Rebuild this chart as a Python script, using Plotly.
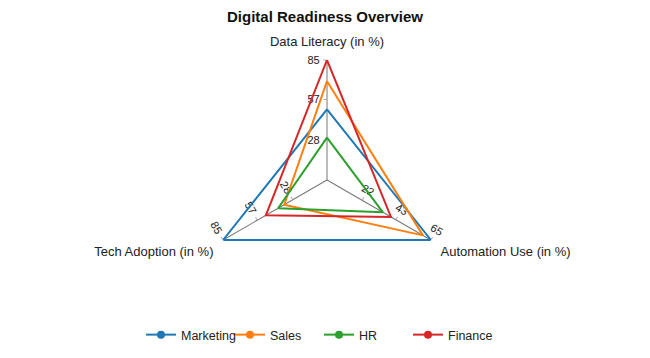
import plotly.graph_objects as go

categories = ["Data Literacy (in %)", "Automation Use (in %)", "Tech Adoption (in %)"]
series_names = ["Marketing", "Sales", "HR", "Finance"]
marketing = [50, 65, 85]
sales = [70, 60, 35]
hr = [30, 35, 40]
finance = [85, 40, 50]
colors = ["#1f77b4", "#ff7f0e", "#2ca02c", "#d62728"]

all_series = [marketing, sales, hr, finance]
axis_max = [max(s[i] for s in all_series) for i in range(len(categories))]
axis_ticks = [[round(m * k / 3) for k in (1, 2, 3)] for m in axis_max]
axis_angles = [90, 330, 210]  # screen angle of each category spoke
axis_tickangles = [90, 0, -90]
axis_sides = ["counterclockwise", "counterclockwise", "clockwise"]

W, H = 650, 358
cx, cy, R = 327, 180, 120
dom = dict(x=[(cx - R) / W, (cx + R) / W], y=[1 - (cy + R) / H, 1 - (cy - R) / H])

fig = go.Figure()
font = "Arial, Liberation Sans, sans-serif"

# axis-only polars (one per spoke with its own scale)
for i, (m, ticks, ang) in enumerate(zip(axis_max, axis_ticks, axis_angles)):
    pid = f"polar{i + 1}" if i > 0 else "polar"
    fig.add_trace(go.Scatterpolar(r=[None], theta=[None], subplot=pid, showlegend=False,
                                  hoverinfo="skip"))
    fig.layout[pid] = dict(
        domain=dom, bgcolor="rgba(0,0,0,0)",
        angularaxis=dict(visible=False),
        radialaxis=dict(angle=ang, range=[0, m], tickvals=ticks, ticktext=[str(t) for t in ticks],
                        tickangle=axis_tickangles[i], side=axis_sides[i],
                        showgrid=False, showline=True, linecolor="#777", linewidth=1,
                        ticks="outside", ticklen=3, tickcolor="#aaa",
                        tickfont=dict(size=11, color="#222", family=font)),
    )

# data polar
for name, vals, col in zip(series_names, all_series, colors):
    r = [v / m for v, m in zip(vals, axis_max)]
    fig.add_trace(go.Scatterpolar(r=r + [r[0]], theta=categories + [categories[0]],
                                  mode="lines", line=dict(color=col, width=2),
                                  subplot="polar4", showlegend=False, name=name))
    fig.add_trace(go.Scatterpolar(r=[None], theta=[categories[0]], mode="lines+markers",
                                  line=dict(color=col, width=2), marker=dict(size=8, color=col),
                                  subplot="polar4", name=name))

fig.update_layout(
    polar4=dict(
        domain=dom, bgcolor="rgba(0,0,0,0)",
        angularaxis=dict(rotation=90, direction="clockwise", categoryarray=categories,
                         showgrid=False, showline=False, ticks="outside", ticklen=8,
                         tickcolor="rgba(0,0,0,0)",
                         tickfont=dict(size=13, color="#222", family=font)),
        radialaxis=dict(visible=False, range=[0, 1]),
    ),
    width=W, height=H,
    margin=dict(l=0, r=0, t=0, b=0),
    paper_bgcolor="white",
    font=dict(family=font, color="#222"),
    title=dict(text="<b>Digital Readiness Overview</b>", x=0.5, xanchor="center",
               y=1 - 17 / H, yanchor="middle", yref="container",
               font=dict(size=15, color="#111", family=font)),
    legend=dict(orientation="h", x=0.5 - 6 / W, xanchor="center", y=1 - 335 / H,
                yanchor="middle", font=dict(size=12.5, family=font), entrywidth=44),
)

fig.write_html("out.html")
